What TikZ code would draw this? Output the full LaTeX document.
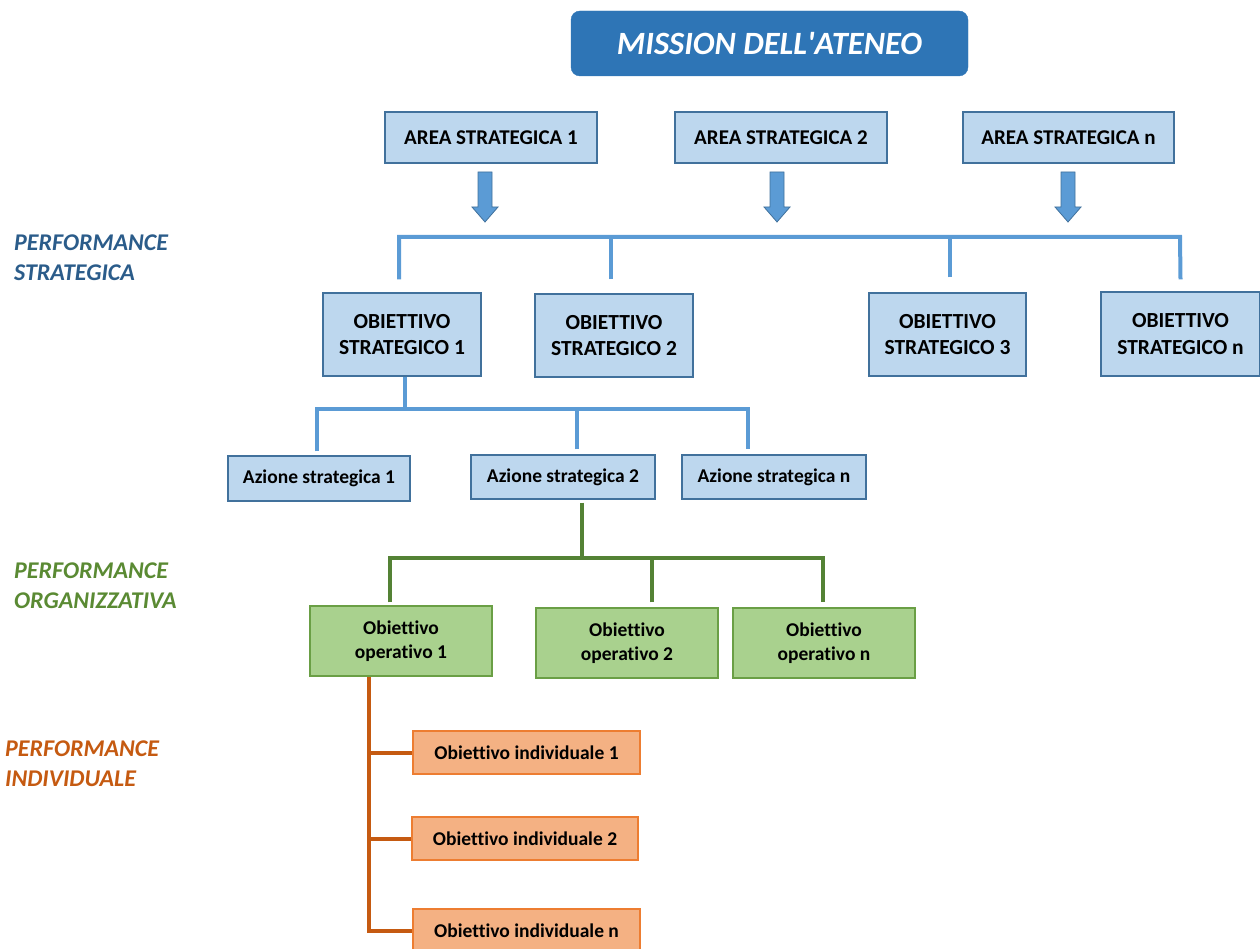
\documentclass[tikz,border=0pt]{standalone}
\usepackage{fontspec}
\setmainfont{Carlito}[Ligatures={NoCommon,TeXOff}]
\definecolor{missionfill}{HTML}{2E75B6}
\definecolor{bfill}{HTML}{BDD7EE}
\definecolor{bdraw}{HTML}{41719C}
\definecolor{bline}{HTML}{5B9BD5}
\definecolor{blabel}{HTML}{2B5C8A}
\definecolor{gfill}{HTML}{A9D18E}
\definecolor{gdraw}{HTML}{6A9F45}
\definecolor{gline}{HTML}{548235}
\definecolor{glabel}{HTML}{5A8A33}
\definecolor{ofill}{HTML}{F4B183}
\definecolor{odraw}{HTML}{ED7D31}
\definecolor{oline}{HTML}{C55A11}
\begin{document}
\begin{tikzpicture}[x=1pt,y=-1pt,
  box/.style={draw, line width=1.4pt, inner sep=0pt, align=center, font=\bfseries\fontsize{21}{26}\selectfont},
  bluebox/.style={box, fill=bfill, draw=bdraw},
  osbox/.style={bluebox, font=\bfseries\fontsize{21.5}{26.5}\selectfont},
  smallbox/.style={bluebox, font=\bfseries\fontsize{19.5}{24}\selectfont},
  greenbox/.style={box, fill=gfill, draw=gdraw, font=\bfseries\fontsize{19.5}{24}\selectfont},
  orangebox/.style={box, fill=ofill, draw=odraw, font=\bfseries\fontsize{19.5}{24}\selectfont},
  blueconn/.style={draw=bline, line width=4pt},
  greenconn/.style={draw=gline, line width=4pt},
  orangeconn/.style={draw=oline, line width=4pt},
  blockarrow/.style={fill=bline, draw=bdraw, line width=0.8pt},
  perflabel/.style={anchor=north west, inner sep=0pt, align=left, font=\bfseries\itshape\fontsize{24}{30}\selectfont}
]
\useasboundingbox (0,0) rectangle (1260,949);

% Mission
\node[draw=missionfill, fill=missionfill, rounded corners=9pt, minimum width=397pt, minimum height=65pt, inner sep=0pt,
      text=white, font=\bfseries\itshape\fontsize{32.5}{38}\selectfont] (mission) at (769.5,43.5) {MISSION DELL'ATENEO};

% Aree strategiche
\node[bluebox, minimum width=212pt, minimum height=51pt] (a1) at (491,137.5) {AREA STRATEGICA 1};
\node[bluebox, minimum width=212pt, minimum height=51pt] (a2) at (781,137.5) {AREA STRATEGICA 2};
\node[bluebox, minimum width=211pt, minimum height=51pt] (an) at (1068.5,137.5) {AREA STRATEGICA n};

% Block arrows
\newcommand\myblockarrow[1]{%
  \path[blockarrow] (#1) ++(-7,0) -- ++(14,0) -- ++(0,35) -- ++(6,0) -- ++(-13,15) -- ++(-13,-15) -- ++(6,0) -- cycle;}
\coordinate (ar1) at (485,172);
\coordinate (ar2) at (777,172);
\coordinate (arn) at (1068,172);
\myblockarrow{ar1}
\myblockarrow{ar2}
\myblockarrow{arn}

% Obiettivi strategici
\node[osbox, minimum width=158pt, minimum height=83pt] (os1) at (402,334.5) {OBIETTIVO\\STRATEGICO 1};
\node[osbox, minimum width=158pt, minimum height=83pt] (os2) at (614,335.5) {OBIETTIVO\\STRATEGICO 2};
\node[osbox, minimum width=157pt, minimum height=83pt] (os3) at (947.5,334.5) {OBIETTIVO\\STRATEGICO 3};
\node[osbox, minimum width=159pt, minimum height=84pt] (os4) at (1180.5,334) {OBIETTIVO\\STRATEGICO n};

% Bracket to obiettivi strategici
\coordinate (barB) at (1180,237);
\draw[blueconn] ([xshift=-3pt,yshift=13pt]os1.north) |- (barB) -- ([yshift=12pt]os4.north);
\draw[blueconn] ([xshift=-3pt,yshift=14pt]os2.north) -- ([xshift=-3pt]os2.north |- barB);
\draw[blueconn] ([xshift=2pt,yshift=15pt]os3.north) -- ([xshift=2pt]os3.north |- barB);

% Azioni strategiche
\node[smallbox, minimum width=182pt, minimum height=45pt] (as1) at (319,478.5) {Azione strategica 1};
\node[smallbox, minimum width=184pt, minimum height=44pt] (as2) at (563,477) {Azione strategica 2};
\node[smallbox, minimum width=184pt, minimum height=44pt] (asn) at (774,477) {Azione strategica n};

\coordinate (bar2) at (405,409);
\draw[blueconn] ([xshift=3pt]os1.south) -- (bar2);
\draw[blueconn] ([xshift=-2pt,yshift=4pt]as1.north) |- ([xshift=-26pt]asn.north |- bar2) -- ([xshift=-26pt,yshift=5pt]asn.north);
\draw[blueconn] ([xshift=14pt,yshift=5pt]as2.north) -- ([xshift=14pt]as2.north |- bar2);

% Obiettivi operativi
\node[greenbox, minimum width=182pt, minimum height=70pt] (oo1) at (401,641) {Obiettivo\\operativo 1};
\node[greenbox, minimum width=182pt, minimum height=70pt] (oo2) at (627,643) {Obiettivo\\operativo 2};
\node[greenbox, minimum width=182pt, minimum height=70pt] (oon) at (824,643) {Obiettivo\\operativo n};

\coordinate (bar3) at (582,558);
\draw[greenconn] ([xshift=19pt,yshift=-3pt]as2.south) -- (bar3);
\draw[greenconn] ([xshift=-11pt,yshift=3pt]oo1.north) |- ([xshift=-1pt]oon.north |- bar3) -- ([xshift=-1pt,yshift=5pt]oon.north);
\draw[greenconn] ([xshift=25pt,yshift=5pt]oo2.north) -- ([xshift=25pt]oo2.north |- bar3);

% Obiettivi individuali
\node[orangebox, minimum width=227pt, minimum height=43pt] (oi1) at (526.5,752.5) {Obiettivo individuale 1};
\node[orangebox, minimum width=226pt, minimum height=43pt] (oi2) at (525,838.5) {Obiettivo individuale 2};
\node[orangebox, minimum width=227pt, minimum height=43pt] (oin) at (526.5,930.5) {Obiettivo individuale n};

\coordinate (trunk) at ([xshift=-32pt]oo1.south);
\draw[orangeconn] (trunk) |- (oin.west);
\draw[orangeconn] (oi1.west) -- (oi1.west -| trunk);
\draw[orangeconn] (oi2.west) -- (oi2.west -| trunk);

% Labels
\node[perflabel, text=blabel] (ls) at (14,235) {PERFORMANCE\\STRATEGICA};
\node[perflabel, text=glabel] (lo) at (14,563) {PERFORMANCE\\ORGANIZZATIVA};
\node[perflabel, text=oline] (li) at (5,741) {PERFORMANCE\\INDIVIDUALE};
\end{tikzpicture}
\end{document}
